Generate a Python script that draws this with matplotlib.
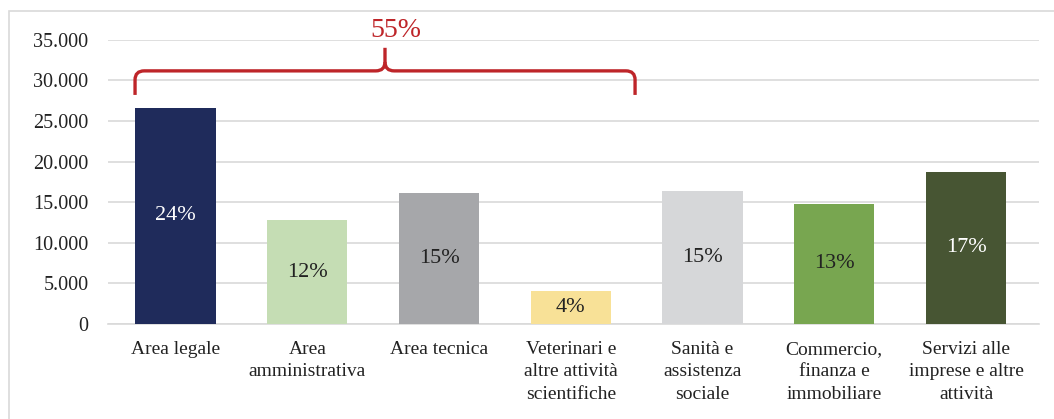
import matplotlib.pyplot as plt
import matplotlib.patches as mpatches
from matplotlib.path import Path

# data
categories = ["Area legale", "Area\namministrativa", "Area tecnica",
              "Veterinari e\naltre attività\nscientifiche", "Sanità e\nassistenza\nsociale",
              "Commercio,\nfinanza e\nimmobiliare", "Servizi alle\nimprese e altre\nattività"]
values = [26600, 12800, 16130, 4060, 16380, 14780, 18720]
shares = ["24%", "12%", "15%", "4%", "15%", "13%", "17%"]
bar_colors = ["#1F2B5B", "#C5DDB4", "#A6A7AA", "#F8E197", "#D6D7D9", "#78A650", "#475533"]
label_colors = ["white", "#222222", "#222222", "#222222", "#222222", "#222222", "white"]
yticks = [0, 5000, 10000, 15000, 20000, 25000, 30000, 35000]
ytick_labels = ["0", "5.000", "10.000", "15.000", "20.000", "25.000", "30.000", "35.000"]
bracket_text = "55%"

plt.rcParams['font.family'] = ['Liberation Serif', 'DejaVu Serif']

fig = plt.figure(figsize=(10.54, 4.19), dpi=100)
ax = fig.add_axes([0.1025, 0.2267, 0.8833, 0.6786])

x = list(range(len(categories)))
bars = ax.bar(x, values, width=0.61, color=bar_colors, zorder=3)
for b, s, c in zip(bars, shares, label_colors):
    ax.text(b.get_x() + b.get_width() / 2, b.get_height() / 2, s,
            ha="center", va="center", color=c, fontsize=16, zorder=4)

ax.set_xlim(-0.512, 6.554)
ax.set_ylim(0, 35000)
ax.set_yticks(yticks)
ax.set_yticklabels(ytick_labels)
ax.set_xticks(x)
ax.set_xticklabels(categories, fontsize=14, color="#222222", linespacing=1.42)
ax.tick_params(axis="y", length=0, pad=14, labelsize=14.5, labelcolor="#222222")
ax.tick_params(axis="x", length=0, pad=12)
ax.yaxis.grid(True, color="#D9D9D9", linewidth=1.2, zorder=0)
for sp in ["top", "right", "left"]:
    ax.spines[sp].set_visible(False)
ax.spines["bottom"].set_color("#D9D9D9")
ax.spines["bottom"].set_linewidth(1.2)

# curly bracket over the first four categories
red = "#BE2529"
x0, x1, xc = -0.307, 3.488, 1.59
yb, yh, yt = 28200, 31160, 34000
rx, ry = 0.07, 1100
left = Path([(x0, yb), (x0, yh - ry), (x0, yh), (x0 + rx, yh),
             (xc - rx, yh), (xc, yh), (xc, yh + ry), (xc, yt)],
            [Path.MOVETO, Path.LINETO, Path.CURVE3, Path.CURVE3,
             Path.LINETO, Path.CURVE3, Path.CURVE3, Path.LINETO])
right = Path([(xc, yh + ry), (xc, yh), (xc + rx, yh),
              (x1 - rx, yh), (x1, yh), (x1, yh - ry), (x1, yb)],
             [Path.MOVETO, Path.CURVE3, Path.CURVE3,
              Path.LINETO, Path.CURVE3, Path.CURVE3, Path.LINETO])
for p in (left, right):
    ax.add_patch(mpatches.PathPatch(p, fill=False, edgecolor=red, linewidth=2.4,
                                    capstyle="butt", clip_on=False, zorder=5))
ax.text(1.67, 36150, bracket_text, ha="center", va="center", color=red,
        fontsize=20, clip_on=False)

# chart frame
fig.patches.append(mpatches.Rectangle((9 / 1054, -0.1), 1.2, 1.1 - 11 / 419,
                                      transform=fig.transFigure, fill=False,
                                      edgecolor="#D9D9D9", linewidth=1.2))

fig.savefig("out.png", dpi=100)
